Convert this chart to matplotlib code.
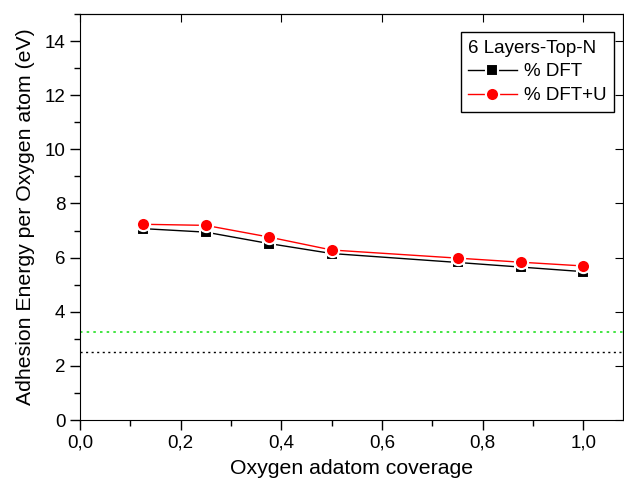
import matplotlib
matplotlib.use("Agg")
import matplotlib.pyplot as plt
from matplotlib.ticker import MultipleLocator, FuncFormatter

plt.rcParams['font.family'] = ['Liberation Sans', 'DejaVu Sans']

# data
coverage = [0.125, 0.25, 0.375, 0.5, 0.75, 0.875, 1.0]
e_dft = [7.07, 6.94, 6.52, 6.15, 5.82, 5.65, 5.48]
e_dftu = [7.23, 7.19, 6.76, 6.28, 5.98, 5.83, 5.69]
ref_green = 3.25
ref_black = 2.51

fig = plt.figure(figsize=(6.24, 4.82), dpi=100)
ax = fig.add_axes([0.128, 0.1286, 0.87, 0.8425])

# reference levels
ax.axhline(ref_green, color='#22e022', ls=(0, (1.5, 2.5)), lw=1.2)
ax.axhline(ref_black, color='black', ls=(0, (1.5, 2.5)), lw=1.0)

# white marker edges give the gap between line and symbol
ax.plot(coverage, e_dft, color='black', lw=1, marker='s', ms=8.5,
        mec='white', mew=1.5, label='% DFT')
ax.plot(coverage, e_dftu, color='red', lw=1, marker='o', ms=9.5,
        mec='white', mew=1.5, label='% DFT+U')

ax.set_xlim(0, 1.078)
ax.set_ylim(0, 15)
ax.xaxis.set_major_locator(MultipleLocator(0.2))
ax.xaxis.set_minor_locator(MultipleLocator(0.1))
ax.yaxis.set_major_locator(MultipleLocator(2))
ax.yaxis.set_minor_locator(MultipleLocator(1))
ax.xaxis.set_major_formatter(FuncFormatter(lambda v, p: f"{v:.1f}".replace('.', ',')))

ax.tick_params(which='both', direction='out', labelsize=13.5, width=1)
ax.tick_params(which='major', length=7)
ax.tick_params(which='minor', length=4)

# inward ticks on top and right
sec_x = ax.secondary_xaxis('top')
sec_x.set_xticks([0, 0.2, 0.4, 0.6, 0.8, 1.0])
sec_x.tick_params(direction='in', length=6, labeltop=False)
sec_y = ax.secondary_yaxis('right')
sec_y.set_yticks(range(0, 16, 2))
sec_y.tick_params(direction='in', length=6, labelright=False)

ax.set_xlabel('Oxygen adatom coverage', fontsize=15.3, labelpad=5)
ax.set_ylabel('Adhesion Energy per Oxygen atom (eV)', fontsize=15.3, labelpad=7)

leg = ax.legend(title='6 Layers-Top-N', loc='upper right',
                bbox_to_anchor=(1.002, 0.978), fontsize=13.5, title_fontsize=13.5,
                fancybox=False, edgecolor='black', framealpha=1,
                handlelength=2.6, borderpad=0.4, labelspacing=0.35,
                handletextpad=0.4)
leg._legend_box.align = 'left'
leg.get_frame().set_linewidth(1)

fig.savefig('out.png', dpi=100)
